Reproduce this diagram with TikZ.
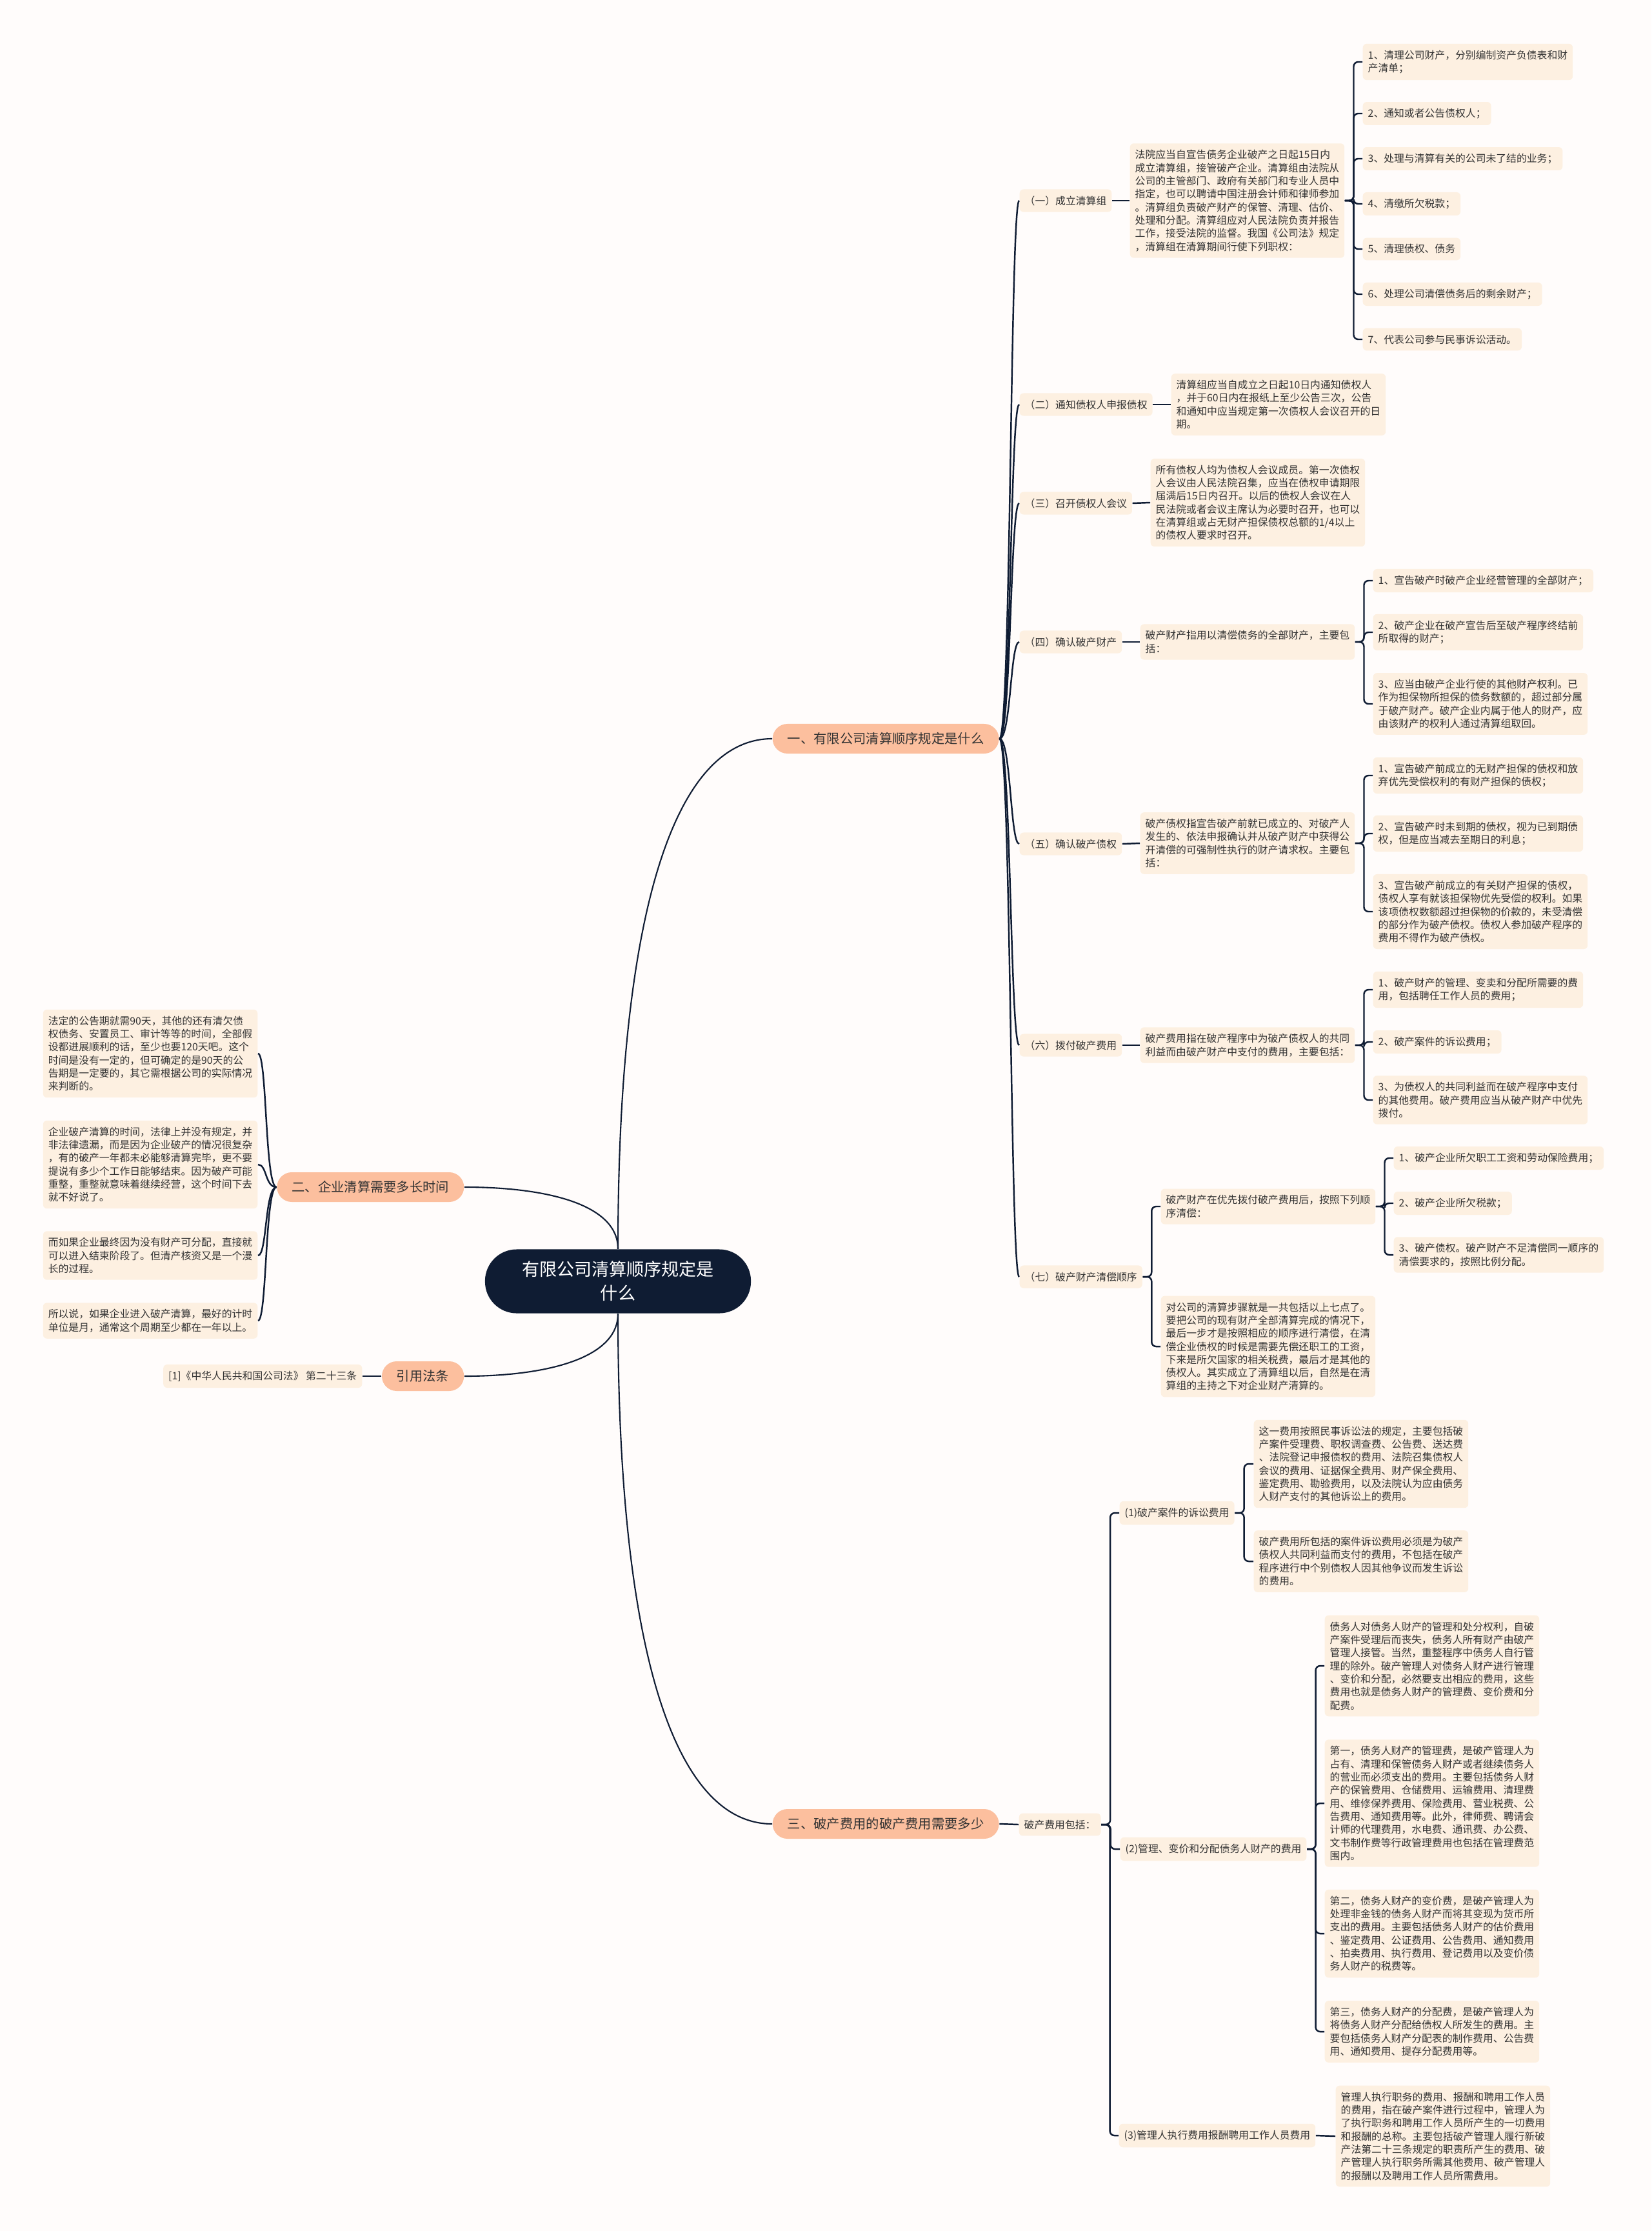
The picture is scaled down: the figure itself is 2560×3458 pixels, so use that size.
\documentclass[tikz,border=0pt]{standalone}
\usepackage{fontspec}
\setmainfont{Noto Sans CJK SC}
\usetikzlibrary{calc}

\definecolor{navy}{HTML}{0F1C33}
\definecolor{peach}{HTML}{FCBF9E}
\definecolor{cream}{HTML}{FDF0E1}
\definecolor{bgpaper}{HTML}{FFFCFB}
\definecolor{inkgray}{HTML}{333333}

\tikzset{
  link/.style={draw=navy, line width=0.7pt},
  rootbox/.style={fill=navy, text=white, rounded corners=0.49cm, minimum width=4.12cm,
    minimum height=0.99cm, align=center, font=\fontsize{7.7pt}{10.5pt}\selectfont},
  branchbox/.style={fill=peach, text=inkgray, rounded corners=0.23cm, minimum height=0.46cm,
    inner xsep=0.23cm, inner ysep=0pt, font=\fontsize{5.78pt}{7pt}\selectfont},
  leafbox/.style={fill=cream, text=inkgray, rounded corners=0.06cm, inner xsep=0.08cm,
    inner ysep=0.1cm, align=left, font=\fontsize{4.5pt}{5.78pt}\selectfont},
}

% nhánh gấp khúc: đi ngang, xuống dọc, bo góc vào nút con
\newcommand{\elbowlink}[2]{%
  \path ($(#1.east)!0.5!(#2.west)$) coordinate (tmpmid);
  \draw[link, rounded corners=0.07cm] (#1.east) -- (tmpmid |- #1.east) |- (#2.west);}

\begin{document}
\begin{tikzpicture}[x=0.01cm, y=-0.01cm]

    % nền
    \useasboundingbox (0,0) rectangle (2560,3458);
    \fill[bgpaper] (0,0) rectangle (2560,3458);

    % =================================================================
    % GỐC VÀ BỐN NHÁNH CHÍNH
    % =================================================================
    \node[rootbox] (root) at (958,1986) {有限公司清算顺序规定是\\什么};

    \node[branchbox, anchor=west] (b1) at (1197,1145) {一、有限公司清算顺序规定是什么};
    \node[branchbox, anchor=east] (b2) at (720,1840) {二、企业清算需要多长时间};
    \node[branchbox, anchor=east] (b4) at (720,2133) {引用法条};
    \node[branchbox, anchor=west] (b3) at (1197,2827) {三、破产费用的破产费用需要多少};

    \draw[link, line width=0.6pt] (root.north) .. controls +(0,-537) and +(-147,0) .. (b1.west);
    \draw[link, line width=0.6pt] (root.north) .. controls +(0,-70) and +(125,0) .. (b2.east);
    \draw[link, line width=0.6pt] (root.south) .. controls +(0,70) and +(125,0) .. (b4.east);
    \draw[link, line width=0.6pt] (root.south) .. controls +(0,537) and +(-147,0) .. (b3.west);

    % =================================================================
    % NHÁNH MỘT: BẢY BƯỚC
    % =================================================================
    \node[leafbox, anchor=west] (s1) at (1580,311) {（一）成立清算组};
    \node[leafbox, anchor=west] (s2) at (1580,627) {（二）通知债权人申报债权};
    \node[leafbox, anchor=west] (s3) at (1580,780) {（三）召开债权人会议};
    \node[leafbox, anchor=west] (s4) at (1580,995) {（四）确认破产财产};
    \node[leafbox, anchor=west] (s5) at (1580,1308) {（五）确认破产债权};
    \node[leafbox, anchor=west] (s6) at (1580,1620) {（六）拨付破产费用};
    \node[leafbox, anchor=west] (s7) at (1580,1979) {（七）破产财产清偿顺序};

    \draw[link] (b1.east) .. controls +(18,0) and +(-14,0) .. (s1.west);
    \draw[link] (b1.east) .. controls +(18,0) and +(-14,0) .. (s2.west);
    \draw[link] (b1.east) .. controls +(18,0) and +(-14,0) .. (s3.west);
    \draw[link] (b1.east) .. controls +(18,0) and +(-14,0) .. (s4.west);
    \draw[link] (b1.east) .. controls +(18,0) and +(-14,0) .. (s5.west);
    \draw[link] (b1.east) .. controls +(18,0) and +(-14,0) .. (s6.west);
    \draw[link] (b1.east) .. controls +(18,0) and +(-14,0) .. (s7.west);

    % (一)
    \node[leafbox, anchor=west] (m1) at (1751,311) {法院应当自宣告债务企业破产之日起15日内\\成立清算组，接管破产企业。清算组由法院从\\公司的主管部门、政府有关部门和专业人员中\\指定，也可以聘请中国注册会计师和律师参加\\。清算组负责破产财产的保管、清理、估价、\\处理和分配。清算组应对人民法院负责并报告\\工作，接受法院的监督。我国《公司法》规定\\，清算组在清算期间行使下列职权：};
    \node[leafbox, anchor=west] (m1a) at (2112,96) {1、清理公司财产，分别编制资产负债表和财\\产清单；};
    \node[leafbox, anchor=west] (m1b) at (2112,176) {2、通知或者公告债权人；};
    \node[leafbox, anchor=west] (m1c) at (2112,246) {3、处理与清算有关的公司未了结的业务；};
    \node[leafbox, anchor=west] (m1d) at (2112,316) {4、清缴所欠税款；};
    \node[leafbox, anchor=west] (m1e) at (2112,386) {5、清理债权、债务};
    \node[leafbox, anchor=west] (m1f) at (2112,456) {6、处理公司清偿债务后的剩余财产；};
    \node[leafbox, anchor=west] (m1g) at (2112,526) {7、代表公司参与民事诉讼活动。};
    \draw[link] (s1.east) -- (m1.west);
    \elbowlink{m1}{m1a}
    \elbowlink{m1}{m1b}
    \elbowlink{m1}{m1c}
    \elbowlink{m1}{m1d}
    \elbowlink{m1}{m1e}
    \elbowlink{m1}{m1f}
    \elbowlink{m1}{m1g}

    % (二) và (三)
    \node[leafbox, anchor=west] (m2) at (1815,627) {清算组应当自成立之日起10日内通知债权人\\，并于60日内在报纸上至少公告三次，公告\\和通知中应当规定第一次债权人会议召开的日\\期。};
    \node[leafbox, anchor=west] (m3) at (1783,779) {所有债权人均为债权人会议成员。第一次债权\\人会议由人民法院召集，应当在债权申请期限\\届满后15日内召开。以后的债权人会议在人\\民法院或者会议主席认为必要时召开，也可以\\在清算组或占无财产担保债权总额的1/4以上\\的债权人要求时召开。};
    \draw[link] (s2.east) -- (m2.west);
    \draw[link] (s3.east) -- (m3.west);

    % (四)
    \node[leafbox, anchor=west] (m4) at (1767,995) {破产财产指用以清偿债务的全部财产，主要包\\括：};
    \node[leafbox, anchor=west] (m4a) at (2128,900) {1、宣告破产时破产企业经营管理的全部财产；};
    \node[leafbox, anchor=west] (m4b) at (2128,980) {2、破产企业在破产宣告后至破产程序终结前\\所取得的财产；};
    \node[leafbox, anchor=west] (m4c) at (2128,1091) {3、应当由破产企业行使的其他财产权利。已\\作为担保物所担保的债务数额的，超过部分属\\于破产财产。破产企业内属于他人的财产，应\\由该财产的权利人通过清算组取回。};
    \draw[link] (s4.east) -- (m4.west);
    \elbowlink{m4}{m4a}
    \elbowlink{m4}{m4b}
    \elbowlink{m4}{m4c}

    % (五)
    \node[leafbox, anchor=west] (m5) at (1767,1307) {破产债权指宣告破产前就已成立的、对破产人\\发生的、依法申报确认并从破产财产中获得公\\开清偿的可强制性执行的财产请求权。主要包\\括：};
    \node[leafbox, anchor=west] (m5a) at (2128,1202) {1、宣告破产前成立的无财产担保的债权和放\\弃优先受偿权利的有财产担保的债权；};
    \node[leafbox, anchor=west] (m5b) at (2128,1292) {2、宣告破产时未到期的债权，视为已到期债\\权，但是应当减去至期日的利息；};
    \node[leafbox, anchor=west] (m5c) at (2128,1413) {3、宣告破产前成立的有关财产担保的债权，\\债权人享有就该担保物优先受偿的权利。如果\\该项债权数额超过担保物的价款的，未受清偿\\的部分作为破产债权。债权人参加破产程序的\\费用不得作为破产债权。};
    \draw[link] (s5.east) -- (m5.west);
    \elbowlink{m5}{m5a}
    \elbowlink{m5}{m5b}
    \elbowlink{m5}{m5c}

    % (六)
    \node[leafbox, anchor=west] (m6) at (1767,1620) {破产费用指在破产程序中为破产债权人的共同\\利益而由破产财产中支付的费用，主要包括：};
    \node[leafbox, anchor=west] (m6a) at (2128,1534) {1、破产财产的管理、变卖和分配所需要的费\\用，包括聘任工作人员的费用；};
    \node[leafbox, anchor=west] (m6b) at (2128,1615) {2、破产案件的诉讼费用；};
    \node[leafbox, anchor=west] (m6c) at (2128,1705) {3、为债权人的共同利益而在破产程序中支付\\的其他费用。破产费用应当从破产财产中优先\\拨付。};
    \draw[link] (s6.east) -- (m6.west);
    \elbowlink{m6}{m6a}
    \elbowlink{m6}{m6b}
    \elbowlink{m6}{m6c}

    % (七)
    \node[leafbox, anchor=west] (m7a) at (1799,1870) {破产财产在优先拨付破产费用后，按照下列顺\\序清偿：};
    \node[leafbox, anchor=west] (m7b) at (1799,2087) {对公司的清算步骤就是一共包括以上七点了。\\要把公司的现有财产全部清算完成的情况下，\\最后一步才是按照相应的顺序进行清偿，在清\\偿企业债权的时候是需要先偿还职工的工资，\\下来是所欠国家的相关税费，最后才是其他的\\债权人。其实成立了清算组以后，自然是在清\\算组的主持之下对企业财产清算的。};
    \node[leafbox, anchor=west] (m7a1) at (2160,1795) {1、破产企业所欠职工工资和劳动保险费用；};
    \node[leafbox, anchor=west] (m7a2) at (2160,1865) {2、破产企业所欠税款；};
    \node[leafbox, anchor=west] (m7a3) at (2160,1945) {3、破产债权。破产财产不足清偿同一顺序的\\清偿要求的，按照比例分配。};
    \elbowlink{s7}{m7a}
    \elbowlink{s7}{m7b}
    \elbowlink{m7a}{m7a1}
    \elbowlink{m7a}{m7a2}
    \elbowlink{m7a}{m7a3}

    % =================================================================
    % NHÁNH HAI VÀ ĐIỀU LUẬT (BÊN TRÁI)
    % =================================================================
    \node[leafbox, anchor=east] (t1) at (400,1633) {法定的公告期就需90天，其他的还有清欠债\\权债务、安置员工、审计等等的时间，全部假\\设都进展顺利的话，至少也要120天吧。这个\\时间是没有一定的，但可确定的是90天的公\\告期是一定要的，其它需根据公司的实际情况\\来判断的。};
    \node[leafbox, anchor=east] (t2) at (400,1805) {企业破产清算的时间，法律上并没有规定，并\\非法律遗漏，而是因为企业破产的情况很复杂\\，有的破产一年都未必能够清算完毕，更不要\\提说有多少个工作日能够结束。因为破产可能\\重整，重整就意味着继续经营，这个时间下去\\就不好说了。};
    \node[leafbox, anchor=east] (t3) at (400,1946) {而如果企业最终因为没有财产可分配，直接就\\可以进入结束阶段了。但清产核资又是一个漫\\长的过程。};
    \node[leafbox, anchor=east] (t4) at (400,2047) {所以说，如果企业进入破产清算，最好的计时\\单位是月，通常这个周期至少都在一年以上。};
    \draw[link] (b2.west) .. controls +(-18,0) and +(14,0) .. (t1.east);
    \draw[link] (b2.west) .. controls +(-18,0) and +(14,0) .. (t2.east);
    \draw[link] (b2.west) .. controls +(-18,0) and +(14,0) .. (t3.east);
    \draw[link] (b2.west) .. controls +(-18,0) and +(14,0) .. (t4.east);

    \node[leafbox, anchor=east] (cite) at (562,2133) {[1]《中华人民共和国公司法》 第二十三条};
    \draw[link] (b4.west) -- (cite.east);

    % =================================================================
    % NHÁNH BA: CÁC KHOẢN PHÍ PHÁ SẢN
    % =================================================================
    \node[leafbox, anchor=west] (c0) at (1579,2828) {破产费用包括：};
    \draw[link] (b3.east) -- (c0.west);

    \node[leafbox, anchor=west] (c1) at (1735,2345) {(1)破产案件的诉讼费用};
    \node[leafbox, anchor=west] (c2) at (1736,2866) {(2)管理、变价和分配债务人财产的费用};
    \node[leafbox, anchor=west] (c3) at (1734,3310) {(3)管理人执行费用报酬聘用工作人员费用};
    \elbowlink{c0}{c1}
    \elbowlink{c0}{c2}
    \elbowlink{c0}{c3}

    % (1)
    \node[leafbox, anchor=west] (c1a) at (1943,2269) {这一费用按照民事诉讼法的规定，主要包括破\\产案件受理费、职权调查费、公告费、送达费\\、法院登记申报债权的费用、法院召集债权人\\会议的费用、证据保全费用、财产保全费用、\\鉴定费用、勘验费用，以及法院认为应由债务\\人财产支付的其他诉讼上的费用。};
    \node[leafbox, anchor=west] (c1b) at (1943,2420) {破产费用所包括的案件诉讼费用必须是为破产\\债权人共同利益而支付的费用，不包括在破产\\程序进行中个别债权人因其他争议而发生诉讼\\的费用。};
    \elbowlink{c1}{c1a}
    \elbowlink{c1}{c1b}

    % (2)
    \node[leafbox, anchor=west] (c2a) at (2053,2582) {债务人对债务人财产的管理和处分权利，自破\\产案件受理后而丧失，债务人所有财产由破产\\管理人接管。当然，重整程序中债务人自行管\\理的除外。破产管理人对债务人财产进行管理\\、变价和分配，必然要支出相应的费用，这些\\费用也就是债务人财产的管理费、变价费和分\\配费。};
    \node[leafbox, anchor=west] (c2b) at (2053,2795) {第一，债务人财产的管理费，是破产管理人为\\占有、清理和保管债务人财产或者继续债务人\\的营业而必须支出的费用。主要包括债务人财\\产的保管费用、仓储费用、运输费用、清理费\\用、维修保养费用、保险费用、营业税费、公\\告费用、通知费用等。此外，律师费、聘请会\\计师的代理费用，水电费、通讯费、办公费、\\文书制作费等行政管理费用也包括在管理费范\\围内。};
    \node[leafbox, anchor=west] (c2c) at (2053,2997) {第二，债务人财产的变价费，是破产管理人为\\处理非金钱的债务人财产而将其变现为货币所\\支出的费用。主要包括债务人财产的估价费用\\、鉴定费用、公证费用、公告费用、通知费用\\、拍卖费用、执行费用、登记费用以及变价债\\务人财产的税费等。};
    \node[leafbox, anchor=west] (c2d) at (2053,3149) {第三，债务人财产的分配费，是破产管理人为\\将债务人财产分配给债权人所发生的费用。主\\要包括债务人财产分配表的制作费用、公告费\\用、通知费用、提存分配费用等。};
    \elbowlink{c2}{c2a}
    \elbowlink{c2}{c2b}
    \elbowlink{c2}{c2c}
    \elbowlink{c2}{c2d}

    % (3)
    \node[leafbox, anchor=west] (c3a) at (2070,3311) {管理人执行职务的费用、报酬和聘用工作人员\\的费用，指在破产案件进行过程中，管理人为\\了执行职务和聘用工作人员所产生的一切费用\\和报酬的总称。主要包括破产管理人履行新破\\产法第二十三条规定的职责所产生的费用、破\\产管理人执行职务所需其他费用、破产管理人\\的报酬以及聘用工作人员所需费用。};
    \draw[link] (c3.east) -- (c3a.west);

\end{tikzpicture}
\end{document}
